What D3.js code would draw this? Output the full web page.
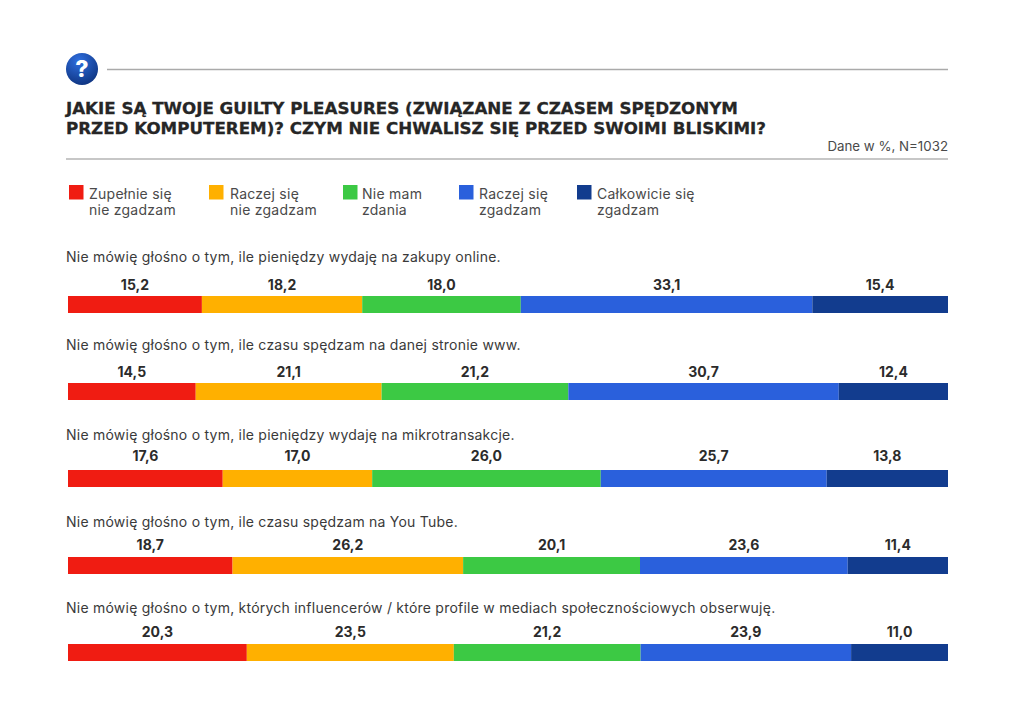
<!DOCTYPE html>
<html lang="pl">
<head>
<meta charset="utf-8">
<title>Guilty pleasures</title>
<script src="https://cdn.jsdelivr.net/npm/d3@7"></script>
<style>
  html, body { margin: 0; padding: 0; background: #fff; }
  svg { display: block; }
  text { font-family: Inter, "Open Sans", sans-serif; fill: #3a3a3a; }
  .title { font-family: "DejaVu Sans", sans-serif; font-weight: 700; font-size: 16.7px; fill: #262626; stroke: #262626; stroke-width: 0.3px; }
  .value { font-weight: 700; font-size: 14px; fill: #2b2b2b; text-anchor: middle; }
  .question { font-size: 14px; letter-spacing: 0.23px; }
  .legend-text { font-size: 14px; letter-spacing: 0.25px; fill: #4a4a4a; }
  .note { font-size: 13.3px; fill: #4a4a4a; text-anchor: end; }
</style>
</head>
<body>
<div id="container"></div>
<script>
const WIDTH = 1015;
const HEIGHT = 720;

const titleLines = [
  'JAKIE SĄ TWOJE GUILTY PLEASURES (ZWIĄZANE Z CZASEM SPĘDZONYM',
  'PRZED KOMPUTEREM)? CZYM NIE CHWALISZ SIĘ PRZED SWOIMI BLISKIMI?',
];
const note = 'Dane w %, N=1032';

const questions = [
  'Nie mówię głośno o tym, ile pieniędzy wydaję na zakupy online.',
  'Nie mówię głośno o tym, ile czasu spędzam na danej stronie www.',
  'Nie mówię głośno o tym, ile pieniędzy wydaję na mikrotransakcje.',
  'Nie mówię głośno o tym, ile czasu spędzam na You Tube.',
  'Nie mówię głośno o tym, których influencerów / które profile w mediach społecznościowych obserwuję.',
];

const categories = ['Zupełnie się nie zgadzam', 'Raczej się nie zgadzam', 'Nie mam zdania', 'Raczej się zgadzam', 'Całkowicie się zgadzam'];
const categoryLines = [
  ['Zupełnie się', 'nie zgadzam'],
  ['Raczej się', 'nie zgadzam'],
  ['Nie mam', 'zdania'],
  ['Raczej się', 'zgadzam'],
  ['Całkowicie się', 'zgadzam'],
];

const stronglyDisagree = [15.2, 14.5, 17.6, 18.7, 20.3];
const ratherDisagree = [18.2, 21.1, 17.0, 26.2, 23.5];
const noOpinion = [18.0, 21.2, 26.0, 20.1, 21.2];
const ratherAgree = [33.1, 30.7, 25.7, 23.6, 23.9];
const stronglyAgree = [15.4, 12.4, 13.8, 11.4, 11.0];
const seriesValues = [stronglyDisagree, ratherDisagree, noOpinion, ratherAgree, stronglyAgree];

const colors = ['#f01c12', '#ffb000', '#3cc944', '#2a60dc', '#123c8e'];

// the source spaces these by hand, so they are not evenly stepped
const legendX = [69, 209, 343, 459, 577];
const legendTextX = [89, 230, 362, 479, 597];
const questionOffset = [34, 33, 30, 30, 31];
const valueOffset = [6, 6, 9, 7, 7];

const rows = questions.map((q, i) => {
  const row = { question: q };
  categories.forEach((c, j) => (row[c] = seriesValues[j][i]));
  return row;
});

const svg = d3.select('#container').append('svg').attr('width', WIDTH).attr('height', HEIGHT);

const defs = svg.append('defs');
const grad = defs.append('radialGradient').attr('id', 'badge').attr('cx', '40%').attr('cy', '25%').attr('r', '85%');
grad.append('stop').attr('offset', '0%').attr('stop-color', '#2f6fe0');
grad.append('stop').attr('offset', '100%').attr('stop-color', '#0c2f78');

// header
svg.append('circle').attr('cx', 82).attr('cy', 69).attr('r', 16).attr('fill', 'url(#badge)');
svg.append('text').attr('x', 82).attr('y', 77).attr('text-anchor', 'middle')
  .style('font-size', '23px').style('font-weight', 800).style('fill', '#fff').text('?');
svg.append('line').attr('x1', 107).attr('x2', 948).attr('y1', 69.5).attr('y2', 69.5).attr('stroke', '#aaa').attr('stroke-width', 1.4);
svg.append('line').attr('x1', 66).attr('x2', 948).attr('y1', 159).attr('y2', 159).attr('stroke', '#b5b5b5').attr('stroke-width', 1.4);

svg.selectAll('.title').data(titleLines).enter().append('text')
  .attr('class', 'title').attr('x', 66).attr('y', (d, i) => 114 + i * 20).text((d) => d);

svg.append('text').attr('class', 'note').attr('x', 948).attr('y', 151).text(note);

// legend
const legend = svg.selectAll('.legend-item').data(categories).enter().append('g').attr('class', 'legend-item');
legend.append('rect')
  .attr('x', (d, i) => legendX[i]).attr('y', 185)
  .attr('width', 14.5).attr('height', 14.5).attr('fill', (d, i) => colors[i]);
legend.append('text').attr('class', 'legend-text')
  .selectAll('tspan').data((d, i) => categoryLines[i].map((line) => ({ line, i }))).enter().append('tspan')
  .attr('x', (d) => legendTextX[d.i]).attr('y', (d, i) => 198.5 + i * 16.5).text((d) => d.line);

// bars
const x = d3.scaleLinear().domain([0, 100]).range([68, 948]);
const y = d3.scalePoint().domain(questions).range([296, 644]);
const BAR_HEIGHT = 17;

const stacked = d3.stack().keys(categories).offset(d3.stackOffsetExpand)(rows);

svg.selectAll('.question').data(questions).enter().append('text')
  .attr('class', 'question').attr('x', 66).attr('y', (d, i) => y(d) - questionOffset[i]).text((d) => d);

const layers = svg.selectAll('.layer').data(stacked).enter().append('g')
  .attr('class', 'layer').attr('fill', (d, i) => colors[i]);

layers.selectAll('rect').data((d) => d).enter().append('rect')
  .attr('x', (d) => x(d[0] * 100))
  .attr('y', (d) => y(d.data.question))
  .attr('width', (d) => x(d[1] * 100) - x(d[0] * 100))
  .attr('height', BAR_HEIGHT);

layers.selectAll('text').data((d) => d.map((p, i) => ({ p, i, v: p.data[d.key] }))).enter().append('text')
  .attr('class', 'value')
  .attr('x', (d) => x(((d.p[0] + d.p[1]) / 2) * 100))
  .attr('y', (d) => y(d.p.data.question) - valueOffset[d.i])
  .text((d) => d.v.toFixed(1).replace('.', ','));
</script>
</body>
</html>
